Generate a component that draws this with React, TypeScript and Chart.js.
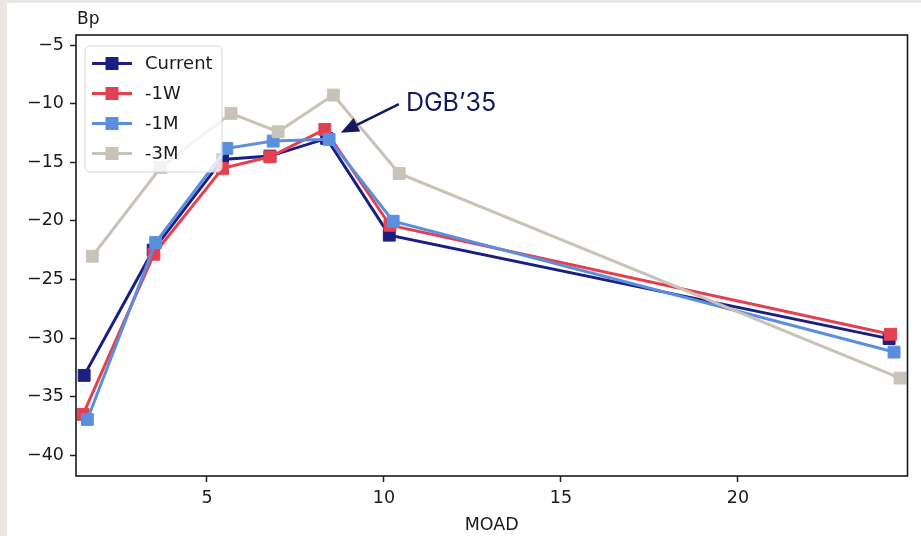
import React, { useEffect, useRef } from "react";
import { Chart, registerables } from "chart.js";

Chart.register(...registerables);

const xTicks = [5, 10, 15, 20];
const yTicks = [-5, -10, -15, -20, -25, -30, -35, -40];
const xLimits = [1.3, 24.79];
const yLimits = [-41.78, -4.13];

const seriesNames = ["Current", "-1W", "-1M", "-3M"];
const seriesColors = ["#1c1f82", "#e4404f", "#5a8fdd", "#c9c2b8"];

const currentX = [1.53, 3.48, 5.44, 6.78, 8.38, 10.15, 24.27];
const currentY = [-33.19, -22.5, -14.75, -14.47, -12.96, -21.22, -30.05];
const w1X = [1.5, 3.5, 5.44, 6.78, 8.33, 10.17, 24.31];
const w1Y = [-36.52, -22.85, -15.52, -14.53, -12.19, -20.37, -29.68];
const m1X = [1.62, 3.55, 5.56, 6.87, 8.45, 10.26, 24.41];
const m1Y = [-36.95, -21.85, -13.81, -13.19, -13.04, -20.03, -31.2];
const m3X = [1.76, 3.69, 5.68, 7.01, 8.57, 10.43, 24.58];
const m3Y = [-23.02, -15.44, -10.82, -12.39, -9.26, -15.95, -33.42];

const yAxisLabel = "Bp";
const xAxisLabel = "MOAD";
const annotationText = "DGB\u201935";
const annotationTip = [8.78, -12.48];
const annotationTextPos = [10.62, -9.94];

const seriesX = [currentX, w1X, m1X, m3X];
const seriesY = [currentY, w1Y, m1Y, m3Y];

const FONT = "'DejaVu Sans', sans-serif";
const fmt = (v: number) => (v < 0 ? "\u2212" + Math.abs(v) : String(v));

export default function App() {
  const ref = useRef<HTMLCanvasElement | null>(null);
  useEffect(() => {
    if (!ref.current) return;
    const datasets = seriesNames.map((name, i) => ({
      label: name,
      data: seriesX[i].map((x, j) => ({ x, y: seriesY[i][j] })),
      borderColor: seriesColors[i],
      backgroundColor: seriesColors[i],
      pointBackgroundColor: seriesColors[i],
      pointBorderColor: seriesColors[i],
      pointStyle: "rect",
      pointRadius: 8.4,
      pointBorderWidth: 1,
      borderWidth: 3,
      tension: 0,
      order: seriesNames.length - i,
    }));

    const overlay = {
      id: "overlay",
      afterDatasetsDraw(chart: any) {
        const { ctx, chartArea: a, scales } = chart;
        const xs = scales.x, ys = scales.y;
        ctx.save();
        // frame
        ctx.strokeStyle = "#1a1a1a";
        ctx.lineWidth = 1.6;
        ctx.strokeRect(a.left, a.top, a.right - a.left, a.bottom - a.top);

        // legend
        const lx = 78, ly = 43, lw = 137, lh = 126;
        ctx.beginPath();
        (ctx as any).roundRect(lx, ly, lw, lh, 5);
        ctx.fillStyle = "rgba(255,255,255,0.8)";
        ctx.fill();
        ctx.strokeStyle = "#d6d6d6";
        ctx.lineWidth = 1;
        ctx.stroke();
        seriesNames.forEach((name, i) => {
          const cy = ly + 17.5 + i * 30;
          ctx.strokeStyle = seriesColors[i];
          ctx.lineWidth = 3;
          ctx.beginPath();
          ctx.moveTo(lx + 7, cy);
          ctx.lineTo(lx + 47, cy);
          ctx.stroke();
          ctx.fillStyle = seriesColors[i];
          ctx.fillRect(lx + 27 - 6.5, cy - 6.5, 13, 13);
          ctx.fillStyle = "#1a1a1a";
          ctx.font = `18px ${FONT}`;
          ctx.textAlign = "left";
          ctx.textBaseline = "middle";
          ctx.fillText(name, lx + 60, cy + 1);
        });

        // y label
        ctx.fillStyle = "#1a1a1a";
        ctx.font = `17px ${FONT}`;
        ctx.textAlign = "left";
        ctx.textBaseline = "middle";
        ctx.fillText(yAxisLabel, a.left + 1, 17);

        // annotation arrow
        const tx = xs.getPixelForValue(annotationTip[0]);
        const ty = ys.getPixelForValue(annotationTip[1]);
        const sx = xs.getPixelForValue(annotationTextPos[0]) - 7;
        const sy = ys.getPixelForValue(annotationTextPos[1]) + 1;
        const ang = Math.atan2(ty - sy, tx - sx);
        const headLen = 18, headW = 7.5;
        const bx = tx - headLen * Math.cos(ang), by = ty - headLen * Math.sin(ang);
        ctx.strokeStyle = "#131a5c";
        ctx.fillStyle = "#131a5c";
        ctx.lineWidth = 2.5;
        ctx.beginPath();
        ctx.moveTo(sx, sy);
        ctx.lineTo(bx, by);
        ctx.stroke();
        ctx.beginPath();
        ctx.moveTo(tx, ty);
        ctx.lineTo(bx + headW * Math.sin(ang), by - headW * Math.cos(ang));
        ctx.lineTo(bx - headW * Math.sin(ang), by + headW * Math.cos(ang));
        ctx.closePath();
        ctx.fill();
        ctx.font = `25px Inter, 'Noto Sans', sans-serif`;
        ctx.textAlign = "left";
        ctx.textBaseline = "middle";
        ctx.fillText(annotationText, xs.getPixelForValue(annotationTextPos[0]), ys.getPixelForValue(annotationTextPos[1]));
        ctx.restore();
      },
    };

    const chart = new Chart(ref.current, {
      type: "line",
      data: { datasets: datasets as any },
      options: {
        animation: false,
        responsive: false,
        layout: { padding: { top: 32, right: 13.5, left: 0, bottom: 0 } },
        plugins: { legend: { display: false }, tooltip: { enabled: false } },
        scales: {
          x: {
            type: "linear",
            min: xLimits[0],
            max: xLimits[1],
            afterBuildTicks: (s: any) => { s.ticks = xTicks.map((v) => ({ value: v })); },
            afterFit: (s: any) => { s.height = 60; },
            grid: { display: true, drawOnChartArea: false, drawTicks: true, tickLength: 6, tickWidth: 1.5, tickColor: "#222" },
            border: { display: false },
            ticks: { autoSkip: false, maxRotation: 0, padding: 6, color: "#1a1a1a", font: { family: FONT, size: 17.5 }, callback: (v: any) => fmt(Number(v)) },
            title: { display: true, text: xAxisLabel, color: "#1a1a1a", font: { family: FONT, size: 17.5 }, padding: { top: 0, bottom: 0 } },
          },
          y: {
            type: "linear",
            min: yLimits[0],
            max: yLimits[1],
            afterBuildTicks: (s: any) => { s.ticks = yTicks.map((v) => ({ value: v })); },
            afterFit: (s: any) => { s.width = 69; },
            grid: { display: true, drawOnChartArea: false, drawTicks: true, tickLength: 6, tickWidth: 1.5, tickColor: "#222" },
            border: { display: false },
            ticks: { autoSkip: false, padding: 6, color: "#1a1a1a", font: { family: FONT, size: 17.5 }, callback: (v: any) => fmt(Number(v)) },
          },
        },
      },
      plugins: [overlay],
    } as any);
    return () => chart.destroy();
  }, []);

  return (
    <div style={{ width: 921, height: 536, background: "#ffffff", boxSizing: "border-box", borderLeft: "7px solid #ece7e5", borderTop: "3px solid #ece7e5", overflow: "hidden" }}>
      <style>{`body{margin:0;}`}</style>
      <canvas ref={ref} width={914} height={533} style={{ display: "block", width: 914, height: 533 }} />
    </div>
  );
}
